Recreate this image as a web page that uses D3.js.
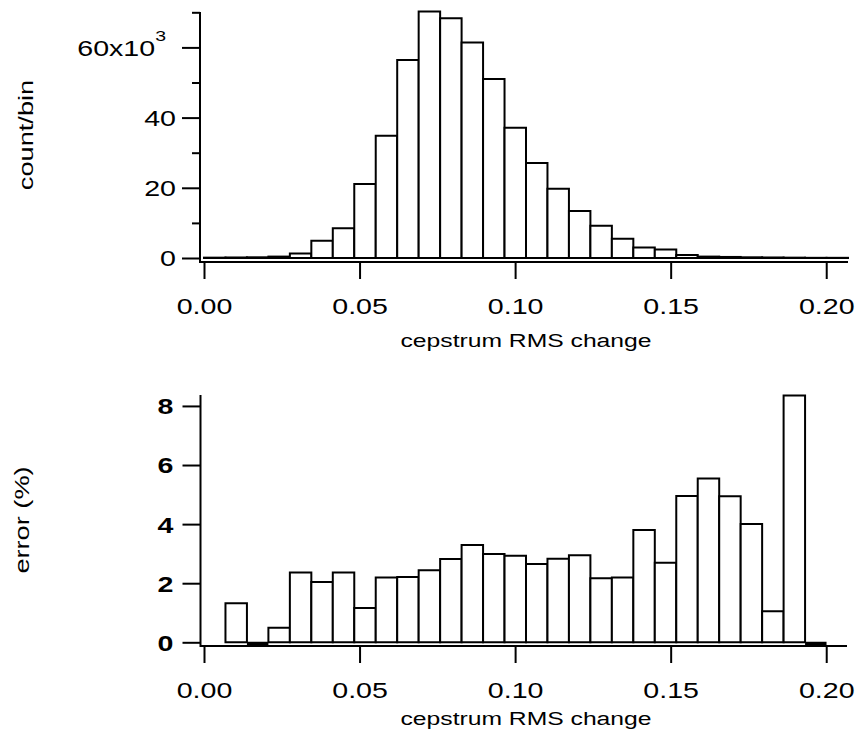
<!DOCTYPE html>
<html>
<head>
<meta charset="utf-8">
<script src="https://cdn.jsdelivr.net/npm/d3@7"></script>
<style>
body{margin:0;background:#fff;}
svg text{font-family:"Liberation Sans",Arial,sans-serif;fill:#000;}
</style>
</head>
<body>
<div class="c_chart"></div>
<script>
/*DATA
------------------------------------------------------
*/
const binWidth = 0.0069; // histogram bin width (cepstrum RMS change)

// top panel, count per bin in thousands (30 bins starting at 0)
const countK = [0.1, 0.15, 0.2, 0.4, 1.3, 4.9, 8.5, 21.1, 34.8, 56.4,
	70.2, 68.3, 61.4, 51.0, 37.1, 27.1, 19.7, 13.4, 9.2, 5.5,
	3.0, 2.4, 0.85, 0.4, 0.3, 0.2, 0.15, 0.1, 0.05, 0.05];

// top panel, erroneous count per bin in thousands
const errorCountK = [0, 0, 0, 0.01, 0.03, 0.1, 0.2, 0.45, 0.4, 1.25,
	1.5, 1.5, 1.5, 1.45, 1.2, 0.8, 0.55, 0.4, 0.25, 0.15,
	0.1, 0.1, 0.05, 0.03, 0.02, 0.01, 0, 0, 0, 0];

// bottom panel, error (%) per bin (29 bins, first one empty)
const errorPct = [null, 1.32, 0, 0.49, 2.36, 2.04, 2.36, 1.16, 2.19, 2.21,
	2.44, 2.82, 3.29, 2.99, 2.93, 2.65, 2.83, 2.95, 2.17, 2.19,
	3.80, 2.69, 4.95, 5.54, 4.94, 4.00, 1.05, 8.35, 0];

const xTicks = [0, 0.05, 0.10, 0.15, 0.20];
const countTicks = [0, 20, 40, 60];
const countMinorTicks = [10, 30, 50, 70];
const errorTicks = [0, 2, 4, 6, 8];

/*SVG
------------------------------------------------------
*/
let svg = d3.select(".c_chart")
	.append("svg")
	.attr("width", 856)
	.attr("height", 738);

const stretch = 1.3; // reference text is wide
const labelStretch = 1.36;

let x = d3.scaleLinear().domain([0, 0.207]).range([204, 848]);
let yTop = d3.scaleLinear().domain([0, 70]).range([258, 12.3]);
let yBot = d3.scaleLinear().domain([0, 8.37]).range([642.3, 395]);

function barPath(i, v, y){
	let x0 = x(i * binWidth), x1 = x((i + 1) * binWidth);
	return `M${x0},${y(0)}V${y(v)}H${x1}V${y(0)}Z`;
}

function drawBars(g, values, y, zeroThick){
	g.selectAll("path.bar")
		.data(values.map((v, i) => ({v: v, i: i})).filter(d => d.v !== null))
		.enter()
		.append("path")
		.attr("class", "bar")
		.attr("d", d => barPath(d.i, d.v, y))
		.attr("fill", "#fff")
		.attr("stroke", "#000")
		.attr("stroke-width", d => (zeroThick && d.v === 0) ? 4 : 2)
		.attr("transform", d => (zeroThick && d.v === 0) ? "translate(0,1.5)" : null)
		.attr("stroke-linejoin", "miter");
}

function styleAxis(g){
	g.select(".domain").remove();
	g.selectAll("line").attr("stroke", "#000").attr("stroke-width", 2);
}

//x axis with labels
function drawXAxis(yPos, x1){
	svg.append("line")
		.attr("x1", 200).attr("x2", x1)
		.attr("y1", yPos).attr("y2", yPos)
		.attr("stroke", "#000").attr("stroke-width", 2);
	let g = svg.append("g")
		.attr("transform", `translate(0,${yPos})`)
		.call(d3.axisBottom(x).tickValues(xTicks).tickSize(17).tickFormat(d3.format(".2f")));
	styleAxis(g);
	g.selectAll("text")
		.attr("y", null).attr("dy", null)
		.attr("font-size", 22)
		.attr("transform", `translate(0,52) scale(${stretch},1)`);
}

/*TOP PANEL
------------------------------------------------------
*/
let gTop = svg.append("g");
drawBars(gTop, countK, yTop, false);
drawBars(gTop, errorCountK, yTop, false);

svg.append("line")
	.attr("x1", 200).attr("x2", 200)
	.attr("y1", 12).attr("y2", 263)
	.attr("stroke", "#000").attr("stroke-width", 2);

let gMinor = svg.append("g")
	.attr("transform", "translate(200,0)")
	.call(d3.axisLeft(yTop).tickValues(countMinorTicks).tickSize(8).tickFormat(""));
styleAxis(gMinor);

let gYTop = svg.append("g")
	.attr("transform", "translate(200,0)")
	.call(d3.axisLeft(yTop).tickValues(countTicks).tickSize(18));
styleAxis(gYTop);
gYTop.selectAll("text")
	.attr("x", null).attr("dy", "0.36em")
	.attr("font-size", 22)
	.attr("transform", d => d === 60 ? `translate(-34,0) scale(${stretch},1)` : `translate(-24,0) scale(${stretch},1)`)
	.text(d => d === 60 ? "60x10" : d);
gYTop.selectAll("text")
	.filter(d => d === 60)
	.append("tspan")
	.attr("font-size", 15)
	.attr("dy", "-1em")
	.text("3");

drawXAxis(262, 848);

svg.append("text")
	.attr("text-anchor", "middle")
	.attr("font-size", 19)
	.attr("transform", `translate(526,347) scale(${stretch},1)`)
	.text("cepstrum RMS change");

svg.append("text")
	.attr("text-anchor", "middle")
	.attr("font-size", 20)
	.attr("transform", `translate(33,135) rotate(-90) scale(${labelStretch},1)`)
	.text("count/bin");

/*BOTTOM PANEL
------------------------------------------------------
*/
let gBot = svg.append("g");
drawBars(gBot, errorPct, yBot, true);

svg.append("line")
	.attr("x1", 200.5).attr("x2", 200.5)
	.attr("y1", 395).attr("y2", 647)
	.attr("stroke", "#000").attr("stroke-width", 2);

let gYBot = svg.append("g")
	.attr("transform", "translate(200.5,0)")
	.call(d3.axisLeft(yBot).tickValues(errorTicks).tickSize(18));
styleAxis(gYBot);
gYBot.selectAll("text")
	.attr("x", null).attr("dy", "0.36em")
	.attr("font-size", 22)
	.attr("font-weight", "bold")
	.attr("transform", `translate(-27,0) scale(${stretch},1)`);

drawXAxis(646, 847);

svg.append("text")
	.attr("text-anchor", "middle")
	.attr("font-size", 19)
	.attr("transform", `translate(526,725) scale(${stretch},1)`)
	.text("cepstrum RMS change");

svg.append("text")
	.attr("text-anchor", "middle")
	.attr("font-size", 20)
	.attr("transform", `translate(29,520) rotate(-90) scale(${labelStretch},1)`)
	.text("error (%)");
</script>
</body>
</html>
